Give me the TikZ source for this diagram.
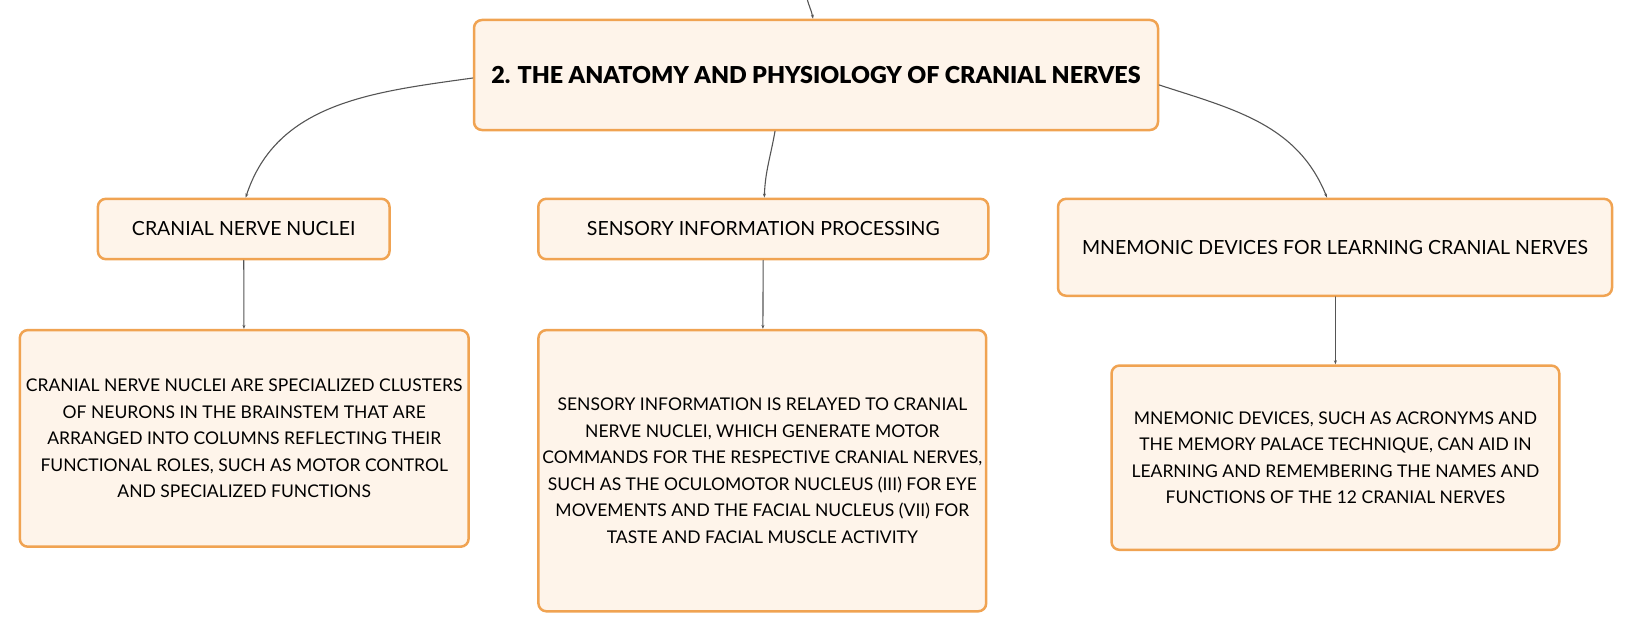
\documentclass[tikz,border=0pt]{standalone}
\usepackage{fontspec}
\setmainfont{Lato}
\newfontfamily\titlefont{Lato Black}
\usepackage{tikz}
\usetikzlibrary{arrows.meta}

\definecolor{boxedge}{HTML}{F0A352}
\definecolor{boxfill}{HTML}{FEF4EA}
\definecolor{linkgrey}{HTML}{555555}

\begin{document}
\begin{tikzpicture}[line cap=round,line join=round,x=1pt,y=-1pt,
    >={Stealth[length=4pt,width=3pt]},
    topic/.style={rectangle, rounded corners=8pt, draw=boxedge, fill=boxfill, line width=2.5pt, align=center, inner sep=0pt},
    label/.style={font=\fontsize{19.5}{24}\selectfont},
    txt/.style={font=\fontsize{17.5}{26.6}\selectfont},
    link/.style={->, draw=linkgrey, line width=1.1pt}]
                    \useasboundingbox (0,0) rectangle (1635,634);

                    \node[topic, minimum width=684pt, minimum height=110pt, font=\fontsize{23.3}{28}\titlefont] (root) at (816,75) {2. THE ANATOMY AND PHYSIOLOGY OF CRANIAL NERVES};

                    \node[topic, label, minimum width=291.6pt, minimum height=60.4pt] (nuclei) at (243.7,229) {CRANIAL NERVE NUCLEI};
                    \node[topic, label, minimum width=450pt, minimum height=60.4pt] (sensory) at (763.3,229) {SENSORY INFORMATION PROCESSING};
                    \node[topic, label, minimum width=554pt, minimum height=96.9pt] (mnemo) at (1335,247.3) {MNEMONIC DEVICES FOR LEARNING CRANIAL NERVES};

                    \node[topic, txt, minimum width=448.8pt, minimum height=216.6pt] (nucleitext) at (244.2,438.4) {CRANIAL NERVE NUCLEI ARE SPECIALIZED CLUSTERS\\ OF NEURONS IN THE BRAINSTEM THAT ARE\\ ARRANGED INTO COLUMNS REFLECTING THEIR\\ FUNCTIONAL ROLES, SUCH AS MOTOR CONTROL\\ AND SPECIALIZED FUNCTIONS};
                    \node[topic, txt, minimum width=447.8pt, minimum height=281.2pt] (sensorytext) at (762.3,470.7) {SENSORY INFORMATION IS RELAYED TO CRANIAL\\ NERVE NUCLEI, WHICH GENERATE MOTOR\\ COMMANDS FOR THE RESPECTIVE CRANIAL NERVES,\\ SUCH AS THE OCULOMOTOR NUCLEUS (III) FOR EYE\\ MOVEMENTS AND THE FACIAL NUCLEUS (VII) FOR\\ TASTE AND FACIAL MUSCLE ACTIVITY};
                    \node[topic, txt, minimum width=447.8pt, minimum height=184.3pt] (mnemotext) at (1335.4,457.7) {MNEMONIC DEVICES, SUCH AS ACRONYMS AND\\ THE MEMORY PALACE TECHNIQUE, CAN AID IN\\ LEARNING AND REMEMBERING THE NAMES AND\\ FUNCTIONS OF THE 12 CRANIAL NERVES};

                    \coordinate (parent) at (807,-2);
                    \draw[link] (parent) to[out=-78, in=100] ([xshift=-3pt]root.north);

                    \draw[link] ([yshift=-3pt]root.west) to[out=188, in=72] ([xshift=2pt]nuclei.north);
                    \draw[link] ([xshift=-41pt]root.south) to[out=-100, in=88] ([xshift=1pt]sensory.north);
                    \draw[link] ([yshift=-10pt]root.east) to[out=-18, in=112] ([xshift=-8pt]mnemo.north);

                    \draw[link] (nuclei) -- (nucleitext);
                    \draw[link] (sensory) -- (sensorytext);
                    \draw[link] ([xshift=0.4pt]mnemo.south) -- (mnemotext.north);
                \end{tikzpicture}
\end{document}
